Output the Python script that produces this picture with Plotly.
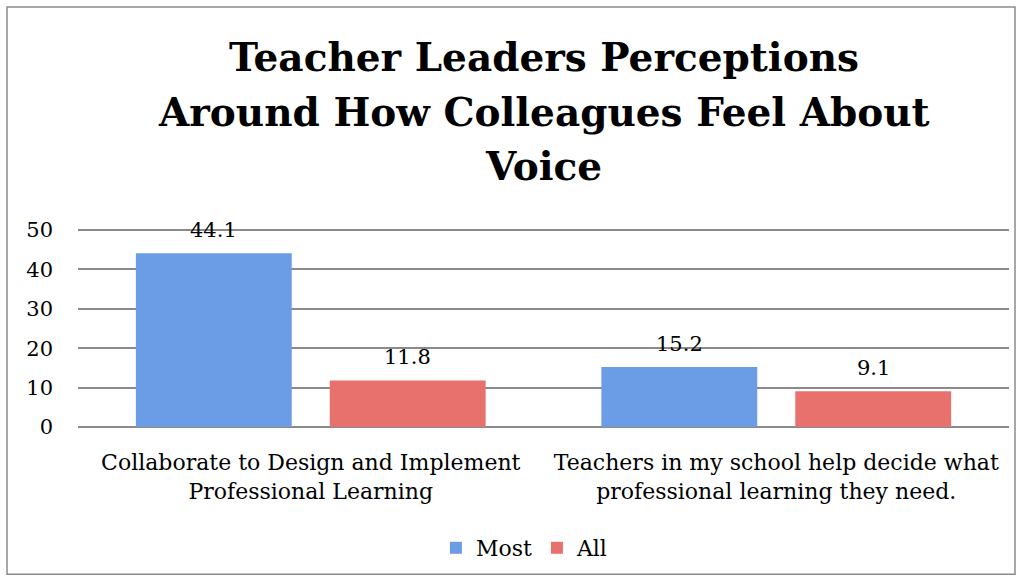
import plotly.graph_objects as go

categories = ["Collaborate to Design and Implement<br>Professional Learning",
              "Teachers in my school help decide what<br>professional learning they need."]
most_values = [44.1, 15.2]
all_values = [11.8, 9.1]
series_names = ["Most", "All"]
y_ticks = [0, 10, 20, 30, 40, 50]
title_lines = ["Teacher Leaders Perceptions", "Around How Colleagues Feel About", "Voice"]

FONT = "DejaVu Serif"
Y_MAX = 51
PLOT_BOTTOM = 428
PLOT_H = 202
series = [(series_names[0], most_values, "#6A9DE6", -97),
          (series_names[1], all_values, "#E8716E", 97)]

fig = go.Figure()
annotations = []
for name, vals, color, shift in series:
    fig.add_trace(go.Bar(
        x=categories, y=vals, name=name,
        marker=dict(color=color, line=dict(width=0)),
    ))
    for cat, v in zip(categories, vals):
        annotations.append(dict(
            x=cat, y=v, xref="x", yref="y", text=f"{v:.1f}", showarrow=False,
            xshift=shift, yshift=9, yanchor="bottom",
            font=dict(family=FONT, size=21, color="#000000"),
        ))

# title, one annotation per line so the line spacing matches
for i, line in enumerate(title_lines):
    y_pix = 56 + 55 * i
    annotations.append(dict(
        x=0.5, y=(PLOT_BOTTOM - y_pix) / PLOT_H, xref="paper", yref="paper",
        text=f"<b>{line}</b>", showarrow=False, xanchor="center", yanchor="middle",
        font=dict(family=FONT, size=39, color="#000000"),
    ))

fig.update_layout(
    width=1024, height=580,
    margin=dict(l=78, r=15, t=PLOT_BOTTOM - PLOT_H, b=580 - PLOT_BOTTOM),
    paper_bgcolor="white", plot_bgcolor="white",
    barmode="group", bargap=0.167, bargroupgap=0.196,
    font=dict(family=FONT, size=21, color="#000000"),
    xaxis=dict(showgrid=False, showline=False, ticks="", tickfont=dict(size=22),
               ticklabelstandoff=20),
    yaxis=dict(range=[0, Y_MAX], tickvals=y_ticks, showgrid=True, gridcolor="#8A8A8A",
               gridwidth=1.5, zeroline=True, zerolinecolor="#8A8A8A", zerolinewidth=1.5,
               showline=False, ticks="", tickfont=dict(size=21), ticklabelstandoff=24),
    legend=dict(orientation="h", x=0.48, xanchor="center",
                y=(PLOT_BOTTOM - 548) / PLOT_H,
                yanchor="middle", font=dict(size=22), itemwidth=30,
                traceorder="normal"),
    annotations=annotations,
    shapes=[dict(type="rect", xref="paper", yref="paper",
                 x0=(7 - 78) / 931, x1=(1015 - 78) / 931,
                 y0=(PLOT_BOTTOM - 576) / PLOT_H, y1=(PLOT_BOTTOM - 6) / PLOT_H,
                 line=dict(color="#8A8A8A", width=1.5), fillcolor="rgba(0,0,0,0)",
                 layer="below")],
)

fig.write_html("out.html", config={"displayModeBar": False},
               post_script="document.body.style.margin='0';")
